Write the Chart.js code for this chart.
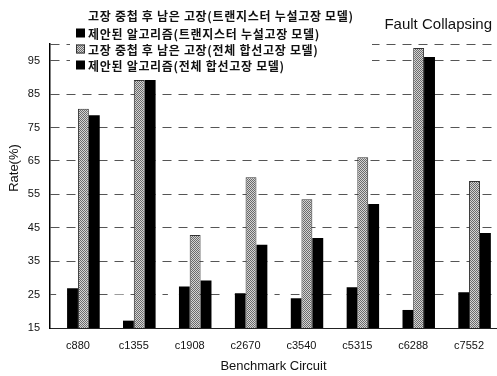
<!DOCTYPE html>
<html>
<head>
<meta charset="utf-8">
<script src="https://cdn.jsdelivr.net/npm/chart.js@4"></script>
<style>
html, body { margin: 0; padding: 0; background: #fff; }
#wrap { width: 497px; height: 376px; }
</style>
</head>
<body>
<div id="wrap"><canvas id="rate-chart"></canvas></div>
<script>
const circuits = ['c880', 'c1355', 'c1908', 'c2670', 'c3540', 'c5315', 'c6288', 'c7552'];
const remainLeakage = [28.0, 25.0, 29.0, 27.0, 26.0, 27.5, 28.0, 26.5];
const proposedLeakage = [26.9, 17.2, 27.4, 25.4, 23.9, 27.2, 20.4, 25.7];
const remainBridging = [80.6, 89.2, 42.8, 60.1, 53.5, 66.1, 98.8, 59.0];
const proposedBridging = [78.7, 89.2, 29.2, 39.9, 41.9, 52.1, 96.1, 43.4];
const yTicks = [15, 25, 35, 45, 55, 65, 75, 85, 95];
const yMin = 15;
const yMax = 100;

const seriesLabels = [
    '고장 중첩 후 남은 고장(트랜지스터 누설고장 모델)',
    '제안된 알고리즘(트랜지스터 누설고장 모델)',
    '고장 중첩 후 남은 고장(전체 합선고장 모델)',
    '제안된 알고리즘(전체 합선고장 모델)',
];

function makeDotPattern() {
    const tile = document.createElement('canvas');
    tile.width = 4;
    tile.height = 4;
    const g = tile.getContext('2d');
    g.fillStyle = '#d4d4d4';
    g.fillRect(0, 0, 4, 4);
    g.fillStyle = '#6a6a6a';
    for (let y = 0; y < 4; y++) {
        for (let x = 0; x < 4; x++) {
            if ((x + y) % 2 === 0) g.fillRect(x, y, 1, 1);
        }
    }
    return g.createPattern(tile, 'repeat');
}

const dotPattern = makeDotPattern();

// legend box, y title and the corner caption, placed like the scanned figure
const paperDecor = {
    id: 'paperDecor',
    afterDraw(chart) {
        const ctx = chart.ctx;
        ctx.save();
        ctx.fillStyle = '#fff';
        ctx.fillRect(70, 3, 302, 73);

        const rows = [15, 33, 49, 65];
        ctx.font = 'bold 12px "Noto Sans CJK KR"';
        ctx.letterSpacing = '0.7px';
        ctx.textBaseline = 'middle';
        chart.data.datasets.forEach((ds, i) => {
            const y = rows[i];
            ctx.fillStyle = ds.backgroundColor;
            ctx.fillRect(76, y - 4.5, 9, 9);
            if (ds.borderWidth) {
                ctx.strokeStyle = ds.borderColor;
                ctx.lineWidth = 1;
                ctx.strokeRect(76.5, y - 4, 8, 8);
            }
            ctx.fillStyle = '#111';
            ctx.fillText(ds.label, 88, y + 1);
        });
        ctx.letterSpacing = '0px';

        ctx.font = '15px "Liberation Sans"';
        ctx.textAlign = 'right';
        ctx.fillText('Fault Collapsing', 492, 25);

        ctx.translate(14, 168);
        ctx.rotate(-Math.PI / 2);
        ctx.textAlign = 'center';
        ctx.font = '13px "Liberation Sans"';
        ctx.fillText('Rate(%)', 0, 0);
        ctx.restore();
    },
};

new Chart(document.getElementById('rate-chart'), {
    type: 'bar',
    data: {
        labels: circuits,
        datasets: [
            { label: seriesLabels[0], data: remainLeakage, backgroundColor: '#ffffff', borderWidth: 0 },
            { label: seriesLabels[1], data: proposedLeakage, backgroundColor: '#000000', borderWidth: 0 },
            { label: seriesLabels[2], data: remainBridging, backgroundColor: dotPattern, borderColor: '#333333', borderWidth: 1 },
            { label: seriesLabels[3], data: proposedBridging, backgroundColor: '#000000', borderWidth: 0 },
        ],
    },
    options: {
        responsive: true,
        maintainAspectRatio: false,
        animation: false,
        barPercentage: 1,
        categoryPercentage: 0.78,
        layout: { padding: { top: 44, right: -3, left: 0, bottom: 0 } },
        plugins: {
            legend: { display: false },
            tooltip: { enabled: false },
        },
        scales: {
            x: {
                grid: { display: false, drawTicks: false },
                border: { display: true, color: '#222', width: 1 },
                ticks: { color: '#111', padding: 11, font: { family: 'Liberation Sans', size: 11 } },
                title: {
                    display: true,
                    text: 'Benchmark Circuit',
                    color: '#111',
                    font: { family: 'Liberation Sans', size: 13 },
                    padding: { top: 0, bottom: 2 },
                },
                afterFit(scale) { scale.height = 48; },
            },
            y: {
                min: yMin,
                max: yMax,
                afterBuildTicks(scale) {
                    scale.ticks = [...yTicks, yMax].map((v) => ({ value: v }));
                },
                ticks: {
                    color: '#111',
                    padding: 10,
                    font: { family: 'Liberation Sans', size: 11 },
                    callback: (v) => (yTicks.includes(v) ? String(v) : ''),
                },
                grid: { color: '#555', lineWidth: 1, drawTicks: false },
                border: { display: true, color: '#000', width: 1.5, dash: [9, 7] },
                afterFit(scale) { scale.width = 50; },
            },
        },
    },
    plugins: [paperDecor],
});
</script>
</body>
</html>
